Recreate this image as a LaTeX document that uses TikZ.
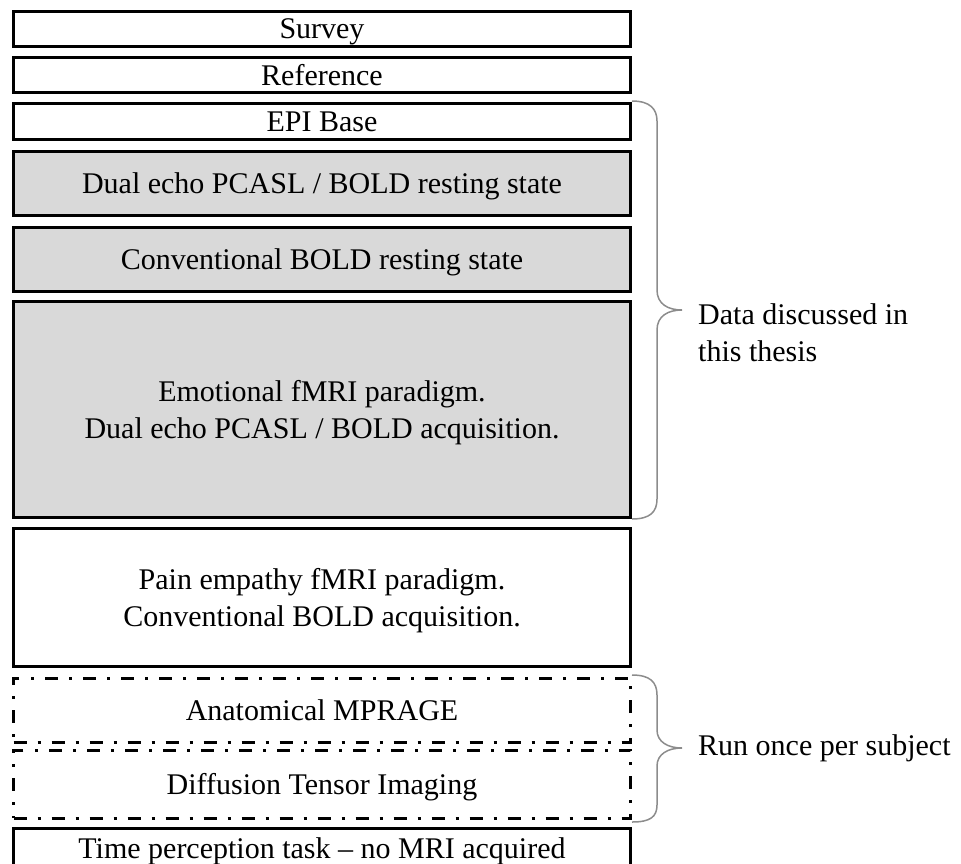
\documentclass[tikz,border=0pt]{standalone}
\usepackage{fontspec}
\setmainfont{Liberation Serif}
\definecolor{boxgray}{HTML}{D9D9D9}
\definecolor{bracegray}{HTML}{8C8C8C}
\begin{document}
\begin{tikzpicture}[x=1pt,y=-1pt,
  txt/.style={font=\fontsize{30}{37}\selectfont},
  box/.style={txt, draw=black, line width=3pt, minimum width=617pt,
    inner sep=0pt, align=center, fill=white, text depth=0pt},
  shaded/.style={box, fill=boxgray},
  dashbox/.style={box, line width=3pt,
    dash pattern=on 13pt off 11pt on 3pt off 11pt},
  bracket/.style={draw=bracegray, line width=1.5pt},
  label/.style={txt, anchor=west, align=left, inner sep=0pt}
]
\useasboundingbox (0,0) rectangle (961,863);

% stacked acquisition blocks
\node[box, minimum height=35pt] (survey) at (322,29) {Survey};
\node[box, minimum height=35pt] (ref) at (322,75) {Reference};
\node[box, minimum height=36pt] (epi) at (322,121.5) {EPI Base};
\node[shaded, minimum height=64pt] (dual) at (322,183.5) {Dual echo PCASL / BOLD resting state};
\node[shaded, minimum height=64pt] (conv) at (322,259.5) {Conventional BOLD resting state};
\node[shaded, minimum height=216pt] (emo) at (322,409.5) {Emotional fMRI paradigm.\\Dual echo PCASL / BOLD acquisition.};
\node[box, minimum height=138pt] (pain) at (322,597.5) {Pain empathy fMRI paradigm.\\Conventional BOLD acquisition.};
\node[dashbox, minimum height=64pt] (mprage) at (322,710) {Anatomical MPRAGE};
\node[dashbox, minimum height=68pt] (dti) at (322,784) {Diffusion Tensor Imaging};
\node[box, minimum height=60pt] (time) at (322,858.5) {};
\node[txt, anchor=base] (timetxt) at (322,858) {Time perception task – no MRI acquired};

% braces grouping the blocks
\draw[bracket] (epi.north east) ++(0,-1)
  .. controls +(18,0) and +(0,-12) .. ++(25,20)
  -- (657,290)
  .. controls (657,304) and (668,310) .. (682,310)
  .. controls (668,310) and (657,316) .. (657,330)
  -- (657,499)
  .. controls (657,512) and (650,519) .. (632,519);
\draw[bracket] (632,675)
  .. controls (650,675) and (657,682) .. (657,695)
  -- (657,730)
  .. controls (657,742) and (668,748) .. (682,748)
  .. controls (668,748) and (657,754) .. (657,766)
  -- (657,805)
  .. controls (657,817) and (650,822) .. (632,822);

\node[label] (data) at (698,333) {Data discussed in\\this thesis};
\node[label] (once) at (698,748) {Run once per subject};
\end{tikzpicture}
\end{document}
